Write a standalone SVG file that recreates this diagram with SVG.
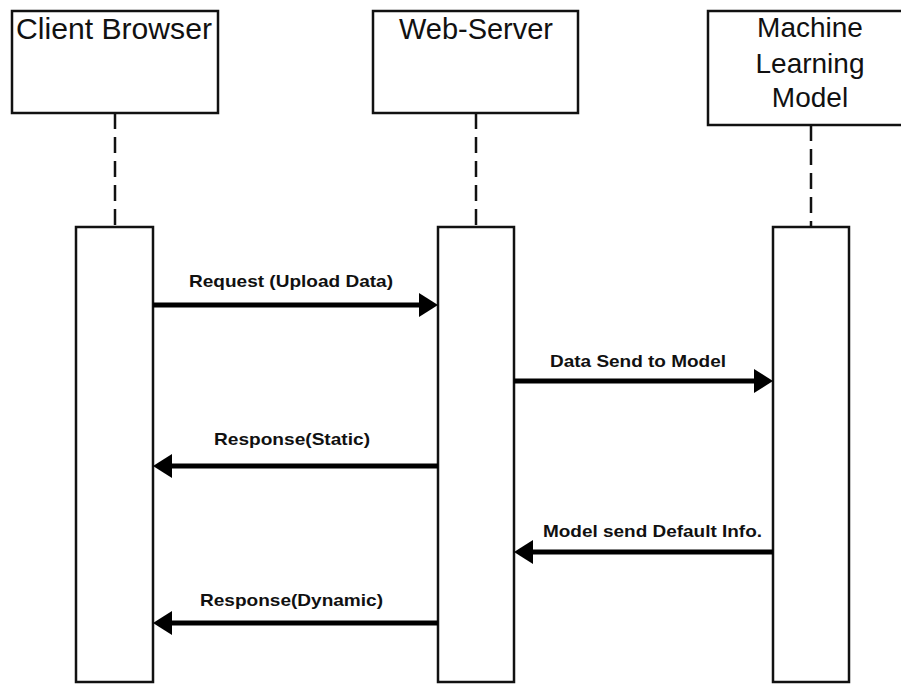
<svg xmlns="http://www.w3.org/2000/svg" width="901" height="684" viewBox="0 0 901 684">
<defs>
<style>
.box{fill:#fff;stroke:#111;stroke-width:2.5}
.life{stroke:#111;stroke-width:2.5;stroke-dasharray:16,8;fill:none}
.title{font-family:"Liberation Sans",Arial,sans-serif;font-size:29px;fill:#111;text-anchor:middle}
.ml{font-size:28px}
.msg{font-family:"Liberation Sans",Arial,sans-serif;font-size:17px;font-weight:bold;fill:#111}
.arrow{stroke:#000;stroke-width:5;fill:none}
.head{fill:#000}
</style>
</defs>
<rect width="901" height="684" fill="#fff"/>
<g id="client">
<rect class="box" x="12" y="11" width="206" height="102"/>
<text class="title" x="114" y="39" textLength="196" lengthAdjust="spacingAndGlyphs">Client Browser</text>
<line class="life" x1="115" y1="113" x2="115" y2="227"/>
<rect class="box" x="76" y="227" width="77" height="455"/>
</g>
<g id="webserver">
<rect class="box" x="373" y="11" width="205" height="102"/>
<text class="title" x="476" y="39" textLength="154" lengthAdjust="spacingAndGlyphs">Web-Server</text>
<line class="life" x1="476" y1="113" x2="476" y2="227"/>
<rect class="box" x="438" y="227" width="76" height="455"/>
</g>
<g id="mlmodel">
<rect class="box" x="708" y="11" width="200" height="114"/>
<text class="title ml" x="810" y="37">Machine</text>
<text class="title ml" x="810" y="73">Learning</text>
<text class="title ml" x="810" y="107">Model</text>
<line class="life" x1="811" y1="125" x2="811" y2="227"/>
<rect class="box" x="773" y="227" width="76" height="455"/>
</g>
<g id="connectors">
<line class="arrow" x1="153" y1="305" x2="422" y2="305"/>
<polygon class="head" points="438,305 419,293 419,317"/>
<text class="msg" x="189" y="287" textLength="204" lengthAdjust="spacingAndGlyphs">Request (Upload Data)</text>

<line class="arrow" x1="514" y1="381" x2="757" y2="381"/>
<polygon class="head" points="773,381 754,369 754,393"/>
<text class="msg" x="550" y="367" textLength="176" lengthAdjust="spacingAndGlyphs">Data Send to Model</text>

<line class="arrow" x1="438" y1="466" x2="169" y2="466"/>
<polygon class="head" points="153,466 172,454 172,478"/>
<text class="msg" x="214" y="445" textLength="156" lengthAdjust="spacingAndGlyphs">Response(Static)</text>

<line class="arrow" x1="773" y1="552" x2="530" y2="552"/>
<polygon class="head" points="514,552 533,540 533,564"/>
<text class="msg" x="543" y="537" textLength="219" lengthAdjust="spacingAndGlyphs">Model send Default Info.</text>

<line class="arrow" x1="438" y1="623" x2="169" y2="623"/>
<polygon class="head" points="153,623 172,611 172,635"/>
<text class="msg" x="200" y="606" textLength="183" lengthAdjust="spacingAndGlyphs">Response(Dynamic)</text>
</g>
</svg>
